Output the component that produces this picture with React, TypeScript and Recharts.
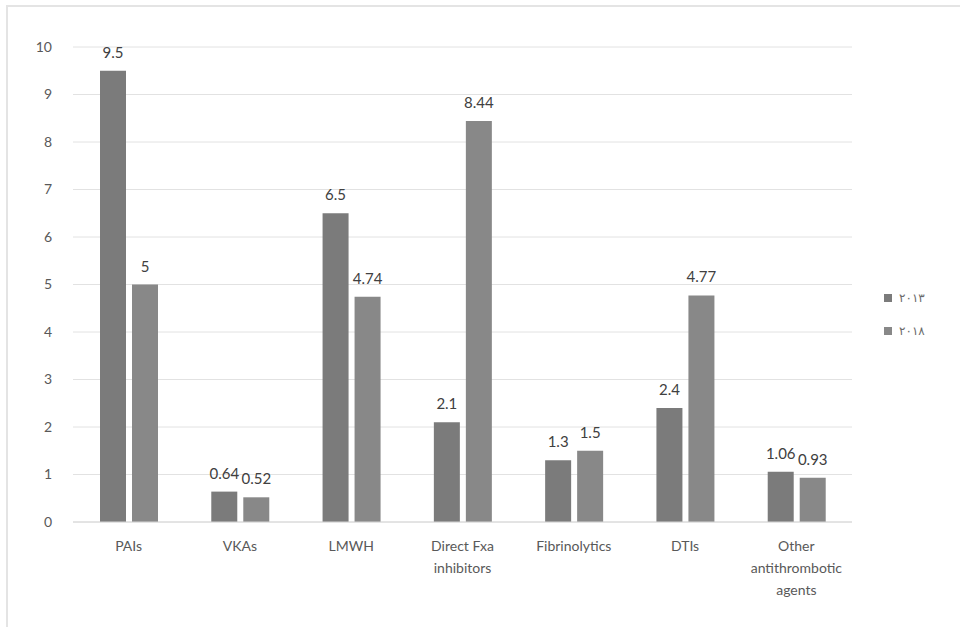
import { Bar, BarChart, CartesianGrid, LabelList, Legend, XAxis, YAxis } from "recharts";

const categories = [
  "PAIs",
  "VKAs",
  "LMWH",
  "Direct Fxa\ninhibitors",
  "Fibrinolytics",
  "DTIs",
  "Other\nantithrombotic\nagents",
];
const values2013 = [9.5, 0.64, 6.5, 2.1, 1.3, 2.4, 1.06];
const values2018 = [5, 0.52, 4.74, 8.44, 1.5, 4.77, 0.93];
const yTicks = [0, 1, 2, 3, 4, 5, 6, 7, 8, 9, 10];

const series = [
  { key: "y2013", name: "٢٠١٣", color: "#7b7b7b" },
  { key: "y2018", name: "٢٠١٨", color: "#888888" },
];

const data = categories.map((c, i) => ({
  name: c,
  y2013: values2013[i],
  y2018: values2018[i],
}));

const FONT = "Lato, 'DejaVu Sans', sans-serif";
const TEXT = "#595959";

function CategoryTick(props: any) {
  const { x, y, payload } = props;
  const lines = String(payload.value).split("\n");
  return (
    <text x={x} y={y} textAnchor="middle" fill={TEXT} fontFamily={FONT} fontSize={14}>
      {lines.map((l, i) => (
        <tspan key={i} x={x} y={y + 29 + i * 22}>
          {l}
        </tspan>
      ))}
    </text>
  );
}

function LegendBox() {
  return (
    <div style={{ fontFamily: FONT, fontSize: 12, color: "#6a6a6a" }}>
      {series.map((s) => (
        <div key={s.key} style={{ display: "flex", alignItems: "center", height: 33 }}>
          <span style={{ width: 8, height: 8, background: s.color, display: "inline-block", marginRight: 7 }} />
          <span>{s.name}</span>
        </div>
      ))}
    </div>
  );
}

export default function App() {
  return (
    <div style={{ position: "absolute", left: 0, top: 0, width: 960, height: 627, background: "#fff" }}>
      <div
        style={{
          position: "absolute",
          left: 6,
          top: 5,
          right: 0,
          bottom: 0,
          borderTop: "2px solid #e4e4e4",
          borderLeft: "2px solid #e4e4e4",
        }}
      />
      <div style={{ position: "absolute", left: 0, top: 0 }}>
        <BarChart
          width={960}
          height={627}
          data={data}
          margin={{ top: 47, right: 38, left: 43, bottom: 0 }}
          barSize={26}
          barGap={6}
        >
          <CartesianGrid vertical={false} stroke="#e2e2e2" />
          <XAxis
            dataKey="name"
            interval={0}
            tickLine={false}
            tickSize={0}
            tickMargin={0}
            axisLine={{ stroke: "#d6d6d6" }}
            tick={<CategoryTick />}
            height={105}
          />
          <YAxis
            domain={[0, 10]}
            ticks={yTicks}
            width={30}
            axisLine={false}
            tickLine={false}
            tickSize={0}
            tickMargin={21}
            tick={{ fill: TEXT, fontSize: 14, fontFamily: FONT }}
          />
          <Legend
            layout="vertical"
            align="right"
            verticalAlign="middle"
            content={<LegendBox />}
            wrapperStyle={{ left: 884, top: 281, width: 70 }}
          />
          {series.map((s) => (
            <Bar key={s.key} dataKey={s.key} name={s.name} fill={s.color} isAnimationActive={false}>
              <LabelList
                dataKey={s.key}
                position="top"
                offset={13}
                fill="#404040"
                fontSize={15}
                fontFamily={FONT}
              />
            </Bar>
          ))}
        </BarChart>
      </div>
    </div>
  );
}
